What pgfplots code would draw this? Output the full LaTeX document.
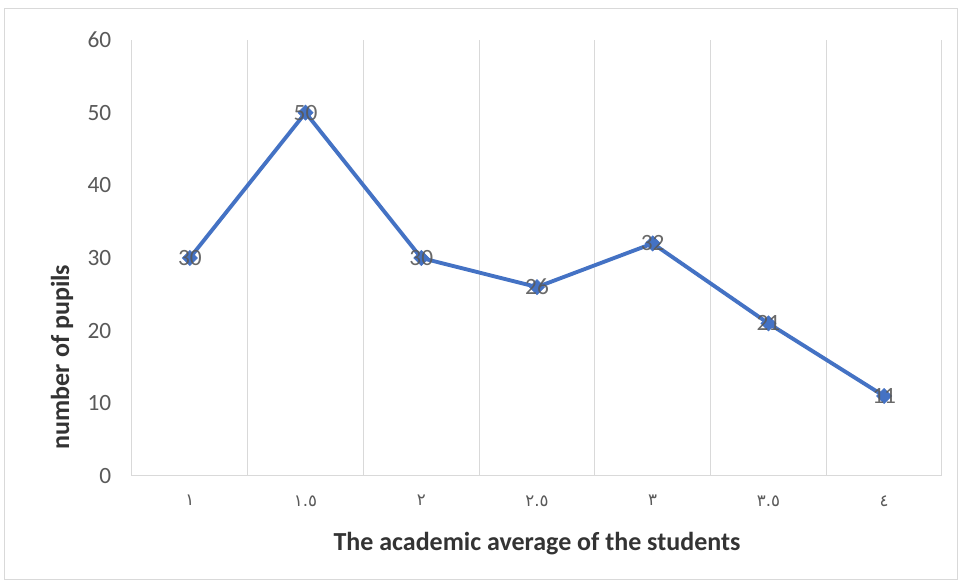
\documentclass[border=0pt]{standalone}
\usepackage{pgfplots}
\pgfplotsset{compat=1.18}
\usepackage{fontspec}
\setmainfont{Carlito}
\newfontfamily\arabicfont[Script=Arabic]{DejaVu Sans}
\definecolor{linecol}{HTML}{4472C4}
\definecolor{gridcol}{HTML}{D9D9D9}
\definecolor{labcol}{HTML}{595959}
\definecolor{titlecol}{HTML}{333333}

\begin{document}
\begin{tikzpicture}[x=0.75pt,y=0.75pt]
% page frame in pixel units
\useasboundingbox (0,0) rectangle (961,585);
\fill[white] (0,0) rectangle (961,585);
\draw[gridcol, line width=0.75pt] (4,5) rectangle (957,576);

\begin{axis}[
    at={(99pt,81.75pt)}, anchor=south west,
    scale only axis,
    width=607.5pt, height=327pt,
    xmin=0.5, xmax=7.5,
    ymin=0, ymax=60,
    xtick={1,...,7},
    xticklabels={١,١.٥,٢,٢.٥,٣,٣.٥,٤},
    xticklabel style={font=\arabicfont\fontsize{12.5}{14}\selectfont, text=labcol, yshift=-11pt},
    minor xtick={0.5,1.5,...,7.5},
    xminorgrids=true,
    minor grid style={gridcol, line width=0.75pt},
    ytick={0,10,...,60},
    yticklabel style={font=\fontsize{17.5}{20}\selectfont, text=labcol, xshift=-12pt},
    /pgf/number format/assume math mode=true,
    major tick length=0pt, minor tick length=0pt,
    axis x line*=bottom, axis y line*=left,
    x axis line style={gridcol, line width=0.75pt},
    y axis line style={draw=none},
    clip=false,
]
\addplot[linecol, line width=2.9pt, mark=square*, mark size=4pt,
    mark options={rotate=45, line width=0.5pt, fill=linecol},
    nodes near coords,
    every node near coord/.append style={anchor=center, font=\fontsize{17.5}{20}\selectfont, text=labcol, opacity=0.9}]
coordinates {
  (1,30) (2,50) (3,30) (4,26) (5,32) (6,21) (7,11)
};
\end{axis}

\node[font=\bfseries\fontsize{19.5}{22}\selectfont, text=titlecol] at (537,41) {The academic average of the students};
\node[font=\bfseries\fontsize{19.5}{22}\selectfont, text=titlecol, rotate=90] at (62,228) {number of pupils};
\end{tikzpicture}
\end{document}
